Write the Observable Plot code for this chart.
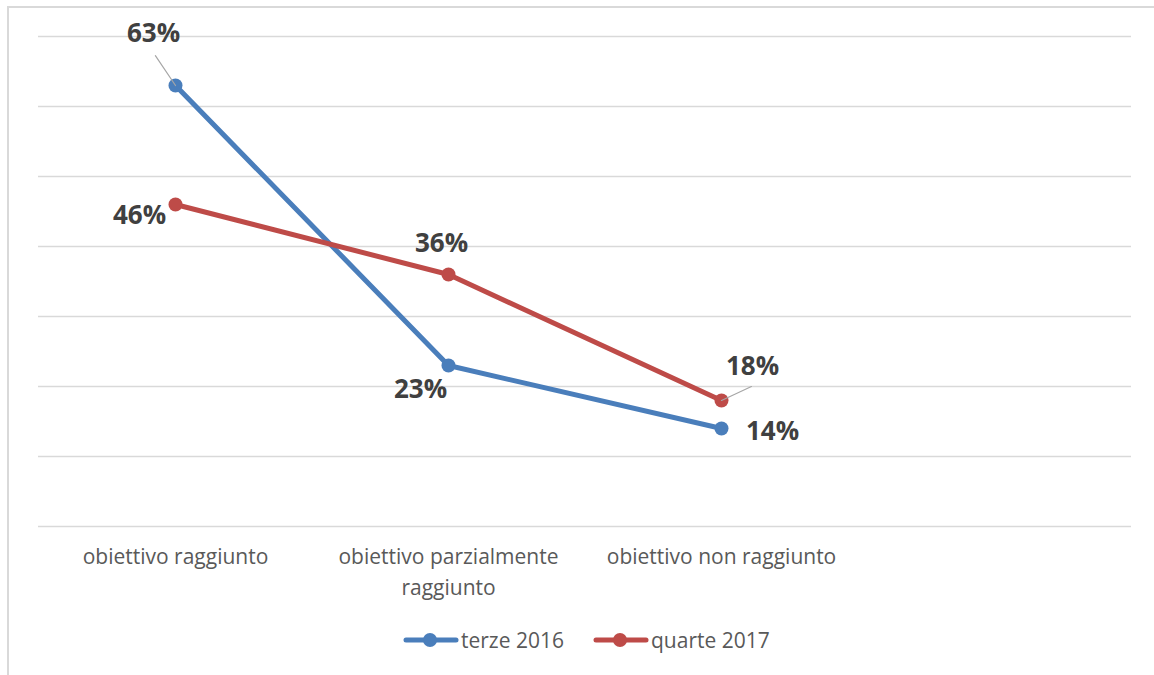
<!DOCTYPE html>
<html><head><meta charset="utf-8">
<script src="https://cdn.jsdelivr.net/npm/d3@7"></script>
<script src="https://cdn.jsdelivr.net/npm/@observablehq/plot@0.6"></script>
<style>
body{margin:0;background:#fff;font-family:"Open Sans",sans-serif;}
#wrap{position:relative;width:1154px;height:675px;overflow:hidden;background:#fff;}
#border{position:absolute;left:7px;top:6px;width:2000px;height:2000px;border-top:2px solid #d9d9d9;border-left:2px solid #d9d9d9;}
#chart{position:absolute;left:0;top:0;}
#legend{position:absolute;top:626px;left:403px;display:flex;align-items:center;font-size:21px;color:#595959;white-space:nowrap;}
#legend .item{display:flex;align-items:center;}
#legend svg{display:block;}
</style>
</head><body>
<div id="wrap"><div id="border"></div><div id="chart"></div><div id="legend"></div></div>
<script>
const categories = ["obiettivo raggiunto", "obiettivo parzialmente raggiunto", "obiettivo non raggiunto", ""];
const seriesNames = ["terze 2016", "quarte 2017"];
const terze2016 = [63, 23, 14];
const quarte2017 = [46, 36, 18];
const yTicks = [0, 10, 20, 30, 40, 50, 60, 70];
const colors = ["#4a7ebb", "#be4b48"];

const rows = [];
[terze2016, quarte2017].forEach((vals, s) => vals.forEach((v, i) => rows.push({series: seriesNames[s], cat: categories[i], value: v})));
const pick = (s, i) => rows.filter(d => d.series === seriesNames[s] && d.cat === categories[i]);

const labelFont = {text: d => `${d.value}%`, fontSize: 26, fontWeight: "bold", fill: "#404040"};
const lineShape = {draw(context, l) { context.moveTo(0, 0); context.lineTo(0, -l); }};

const chart = Plot.plot({
  width: 1154,
  height: 610,
  marginLeft: 38,
  marginRight: 23,
  marginTop: 36,
  marginBottom: 84,
  style: {fontFamily: "'Open Sans', sans-serif", background: "transparent", overflow: "visible"},
  x: {type: "point", domain: categories, padding: 0.5, label: null},
  y: {domain: [0, 70], axis: null},
  color: {domain: seriesNames, range: colors},
  marks: [
    Plot.ruleY(yTicks, {stroke: "#d9d9d9", strokeWidth: 1.5}),
    Plot.axisX({
      label: null, tickSize: 0, tickPadding: 15, fontSize: 21, color: "#595959", lineHeight: 1.5,
      tickFormat: d => d === "obiettivo parzialmente raggiunto" ? "obiettivo parzialmente\nraggiunto" : d
    }),
    Plot.line(rows, {x: "cat", y: "value", z: "series", stroke: "series", strokeWidth: 5}),
    Plot.dot(rows, {x: "cat", y: "value", fill: "series", r: 7}),
    Plot.vector(pick(0, 0), {x: "cat", y: "value", length: 36, rotate: -34, anchor: "start", stroke: "#a6a6a6", strokeWidth: 1.2, shape: lineShape}),
    Plot.vector(pick(1, 2), {x: "cat", y: "value", length: 33, rotate: 65, anchor: "start", stroke: "#a6a6a6", strokeWidth: 1.2, shape: lineShape}),
    Plot.text(pick(0, 0), {x: "cat", y: "value", ...labelFont, dx: -22, dy: -52}),
    Plot.text(pick(1, 0), {x: "cat", y: "value", ...labelFont, dx: -36, dy: 11}),
    Plot.text(pick(1, 1), {x: "cat", y: "value", ...labelFont, dx: -7, dy: -31}),
    Plot.text(pick(0, 1), {x: "cat", y: "value", ...labelFont, dx: -28, dy: 24}),
    Plot.text(pick(1, 2), {x: "cat", y: "value", ...labelFont, dx: 31, dy: -34}),
    Plot.text(pick(0, 2), {x: "cat", y: "value", ...labelFont, dx: 51, dy: 3})
  ]
});
document.getElementById("chart").appendChild(chart);

const legend = document.getElementById("legend");
seriesNames.forEach((name, i) => {
  const item = document.createElement("div");
  item.className = "item";
  if (i > 0) item.style.marginLeft = "29px";
  item.innerHTML = `<svg width="58" height="20"><line x1="3" y1="10" x2="53" y2="10" stroke="${colors[i]}" stroke-width="5" stroke-linecap="round"/><circle cx="27" cy="10" r="7" fill="${colors[i]}"/></svg><span>${name}</span>`;
  legend.appendChild(item);
});
</script>
</body></html>
